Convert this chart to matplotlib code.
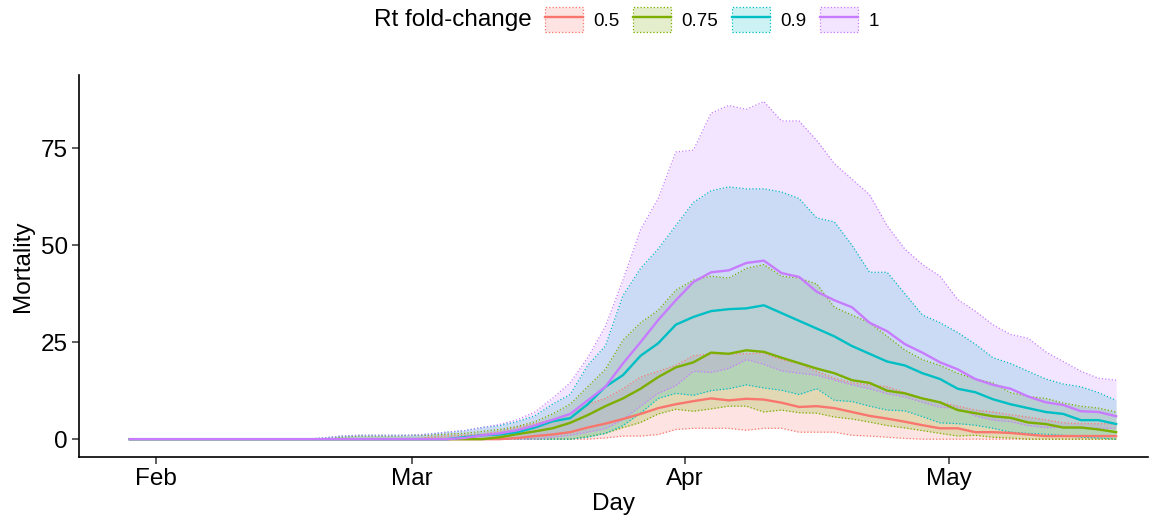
import numpy as np
import pandas as pd
import matplotlib
matplotlib.use('Agg')
import matplotlib.pyplot as plt
import matplotlib.dates as mdates
from matplotlib.patches import Patch
from matplotlib.lines import Line2D

plt.rcParams['font.family'] = ['Liberation Sans', 'DejaVu Sans']

# two-day grid, Jan 29 - May 20 2020
days = pd.date_range('2020-01-29', '2020-05-20', freq='2D')

levels = ['0.5', '0.75', '0.9', '1']
colors = ['#F8766D', '#7CAE00', '#00BFC4', '#C77CFF']

z11 = [0] * 11
mean_05 = [0] * 22 + [0.3, 0.8, 1.2, 1.8, 3, 4, 5.2, 6.5, 8, 9, 9.8, 10.5, 10, 10.4, 10.2, 9.4, 8.3, 8.5, 8,
                      7, 6, 5.3, 4.5, 3.6, 2.8, 2.8, 1.8, 1.8, 1.6, 1.2, 0.8, 0.8, 0.8, 0.8, 0.8]
lo_05 = [0] * 27 + [0.3, 0.8, 0.8, 1.2, 2.5, 2.8, 2.8, 2.8, 2.3, 2.8, 2.8, 1.8, 1.8, 1.8, 1.0, 0.8, 0.5, 0.2,
                    0, 0, 0, 0, 0, 0, 0, 0, 0, 0, 0, 0]
hi_05 = [0] * 17 + [0.5, 0.8, 1, 1.3, 2, 3, 4, 5, 6.5, 9, 10.5, 13, 16, 17.5, 19, 21.5, 22, 22, 22, 22.2, 20.5,
                    19.5, 17.5, 15.7, 14.5, 14, 13.5, 12, 10.5, 9.5, 8.5, 7.5, 7, 6.3, 5.7, 5, 4.2, 4, 4, 3.9]

mean_075 = [0] * 21 + [0.5, 1.3, 2, 2.8, 4.2, 6.2, 8.5, 10.5, 13, 16, 18.5, 19.8, 22.3, 22, 22.9, 22.5, 21,
                       19.6, 18.2, 17, 15.2, 14.5, 12.5, 11.8, 10.5, 9.5, 7.5, 6.7, 5.9, 5.5, 4.3, 3.9, 3, 3,
                       2.5, 1.8]
lo_075 = [0] * 26 + [0.7, 1.5, 3, 4.3, 6.5, 7.7, 7.2, 7.8, 8.5, 8.5, 7, 7.5, 6.8, 6.7, 5.7, 5.2, 4.4, 3.5, 2.9,
                     2.2, 1.5, 0.8, 1, 0.5, 0.3, 0, 0, 0, 0, 0, 0]
hi_075 = z11 + [0, 0.5, 0.8, 0.8, 0.8, 1, 1, 1.3, 1.5, 2, 2.5, 3.3, 4.5, 6.5, 9, 13.5, 18, 25.5, 30, 33.2, 38.4,
                41, 42, 41.5, 44, 45, 42, 41.5, 40, 34, 32, 30, 26.5, 23, 20.5, 19, 17, 15.5, 14.5, 12, 11,
                10.5, 9.3, 8.5, 8, 7]

mean_09 = [0] * 19 + [0.5, 1, 1.2, 1.8, 3, 4.6, 5.4, 9, 13.5, 16.5, 21.5, 24.7, 29.5, 31.5, 33, 33.5, 33.7,
                      34.5, 32.5, 30.5, 28.5, 26.5, 24, 22, 20, 19, 17, 15.5, 13, 12.1, 10.3, 9, 8, 7, 6.5, 4.9,
                      4.9, 3.9]
lo_09 = [0] * 26 + [0.5, 1.5, 3.5, 6.7, 10.5, 11.8, 11.3, 12.5, 13, 14, 13.2, 12.6, 11.5, 13, 10, 9.7, 8.5, 7.5,
                    7.3, 5.8, 4.2, 4, 3.6, 2.8, 1.8, 1.5, 1.3, 1, 0.5, 0.3, 0]
hi_09 = z11 + [0.3, 0.8, 1, 1, 1, 1, 1.3, 1.8, 2.2, 3, 3.5, 4.5, 6, 9, 11.5, 19, 24, 37, 44, 49, 55, 61, 64, 65,
               64.5, 64.5, 63.7, 62, 57, 56, 50, 43, 43, 37.5, 32, 30, 27.5, 24.5, 21, 19.5, 17.5, 15.5, 14.2,
               13.5, 12, 10]

mean_1 = [0] * 19 + [0.3, 1, 1.5, 2.3, 3.5, 5, 6.5, 10, 13.5, 19.5, 25, 30.7, 35.8, 40.5, 43, 43.5, 45.4, 46,
                     42.8, 41.8, 38, 35.8, 34, 30, 27.8, 24.5, 22.3, 19.8, 18, 15.5, 14, 13, 11, 9.5, 8.8, 7.2,
                     7, 5.9]
lo_1 = [0] * 24 + [0.5, 1, 1.8, 2.7, 5, 8.5, 11.8, 13.8, 17.5, 17.2, 18.2, 20.5, 19.3, 17.6, 17, 16.5, 15.2, 14,
                   13, 11.7, 10.9, 9.5, 8.2, 8, 6, 4.9, 4.5, 3.5, 3, 3, 2.8, 2.8, 2.8]
hi_1 = z11 + [0.3, 0.8, 1, 1, 1, 1, 1.3, 1.8, 2.2, 3, 3.8, 5, 7, 10.5, 14.5, 21, 29, 41, 54, 62, 74, 74.5, 84,
              86, 85, 87, 82, 82, 77, 71, 67, 63, 55, 49, 45, 42, 36, 33, 29.5, 27, 26, 22.5, 20, 17.5, 15.7,
              15.2]

means = [mean_05, mean_075, mean_09, mean_1]
lows = [lo_05, lo_075, lo_09, lo_1]
highs = [hi_05, hi_075, hi_09, hi_1]

fig = plt.figure(figsize=(11.64, 5.22), dpi=100)
ax = fig.add_axes([0.068, 0.1245, 0.918, 0.7315])

for lv, c, m, lo, hi in zip(levels, colors, means, lows, highs):
    ax.fill_between(days, lo, hi, color=c, alpha=0.2, linewidth=0)
    ax.plot(days, lo, color=c, linestyle=':', linewidth=0.9)
    ax.plot(days, hi, color=c, linestyle=':', linewidth=0.9)
for c, m in zip(colors, means):
    ax.plot(days, m, color=c, linewidth=1.7)

ax.set_xlim(mdates.date2num(pd.Timestamp('2020-01-23 06:00')),
            mdates.date2num(pd.Timestamp('2020-05-23 14:00')))
ax.set_ylim(-4.6, 93.8)
ax.set_yticks([0, 25, 50, 75])
ax.xaxis.set_major_locator(mdates.MonthLocator())
ax.xaxis.set_major_formatter(mdates.DateFormatter('%b'))
ax.tick_params(labelsize=17.5, length=5, width=1.1, color='#333333', labelcolor='black', pad=3)
for s in ['top', 'right']:
    ax.spines[s].set_visible(False)
for s in ['left', 'bottom']:
    ax.spines[s].set_linewidth(1.2)
ax.set_xlabel('Day', fontsize=17.5, labelpad=2)
ax.set_ylabel('Mortality', fontsize=17.5, labelpad=5)

handles = []
for c in colors:
    p = Patch(facecolor=matplotlib.colors.to_rgba(c, 0.2), edgecolor=c, linestyle=':', linewidth=0.9)
    l = Line2D([], [], color=c, linewidth=1.7)
    handles.append((p, l))
fig.legend(handles, levels, loc='center left', bbox_to_anchor=(0.468, 0.962), ncol=4, frameon=False,
           fontsize=13.5, handlelength=2.05, handleheight=1.65, handletextpad=0.55, columnspacing=0.7,
           borderpad=0, borderaxespad=0)
fig.text(0.457, 0.962, 'Rt fold-change', ha='right', va='center', fontsize=17.5)

fig.savefig('out.png', dpi=100)
